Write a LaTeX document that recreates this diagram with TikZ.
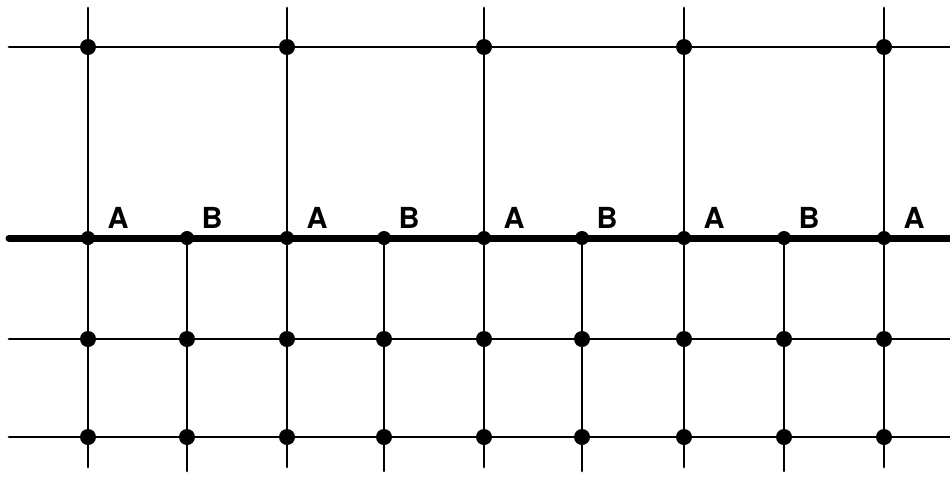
\documentclass[tikz,border=0pt]{standalone}
\usepackage{fontspec}
\setmainfont{TeX Gyre Heros}
\begin{document}
\begin{tikzpicture}[x=1pt,y=-1pt,
  thinline/.style={line width=2.8pt,line cap=round},
  thickline/.style={line width=7pt,line cap=round},
  dot/.style={circle,fill,inner sep=0pt,minimum size=16pt},
  smalldot/.style={circle,fill,inner sep=0pt,minimum size=14pt},
  lab/.style={font=\fontsize{29}{29}\selectfont\bfseries,anchor=base,inner sep=0pt}]
\useasboundingbox (0,0) rectangle (950,477);
% horizontal line ends
\coordinate (L0) at (9,47);   \coordinate (R0) at (952,47);
\coordinate (L1) at (9,238);  \coordinate (R1) at (952,238);
\coordinate (L2) at (9,339);  \coordinate (R2) at (952,339);
\coordinate (L3) at (9,437);  \coordinate (R3) at (952,437);
\draw[thinline] (L0) -- (R0);
\draw[thickline] (L1) -- (R1);
\draw[thinline] (L2) -- (R2);
\draw[thinline] (L3) -- (R3);
% A columns
\foreach \i/\x in {1/88,2/287,3/484,4/684,5/884}{
  \coordinate (AT\i) at (\x,8);
  \coordinate (AB\i) at (\x,467);
  \draw[thinline] (AT\i) -- (AB\i);
  \node[dot] (A0\i) at (\x,47) {};
  \node[smalldot] (A1\i) at (\x,238) {};
  \node[dot] (A2\i) at (\x,339) {};
  \node[dot] (A3\i) at (\x,437) {};
  \node[lab] (AL\i) at (\x+30,228) {A};
}
% B columns
\foreach \i/\x in {1/187,2/384,3/582,4/784}{
  \coordinate (BT\i) at (\x,238);
  \coordinate (BB\i) at (\x,471);
  \draw[thinline] (BT\i) -- (BB\i);
  \node[smalldot] (B1\i) at (\x,238) {};
  \node[dot] (B2\i) at (\x,339) {};
  \node[dot] (B3\i) at (\x,437) {};
  \node[lab] (BL\i) at (\x+25,228) {B};
}
\end{tikzpicture}
\end{document}
